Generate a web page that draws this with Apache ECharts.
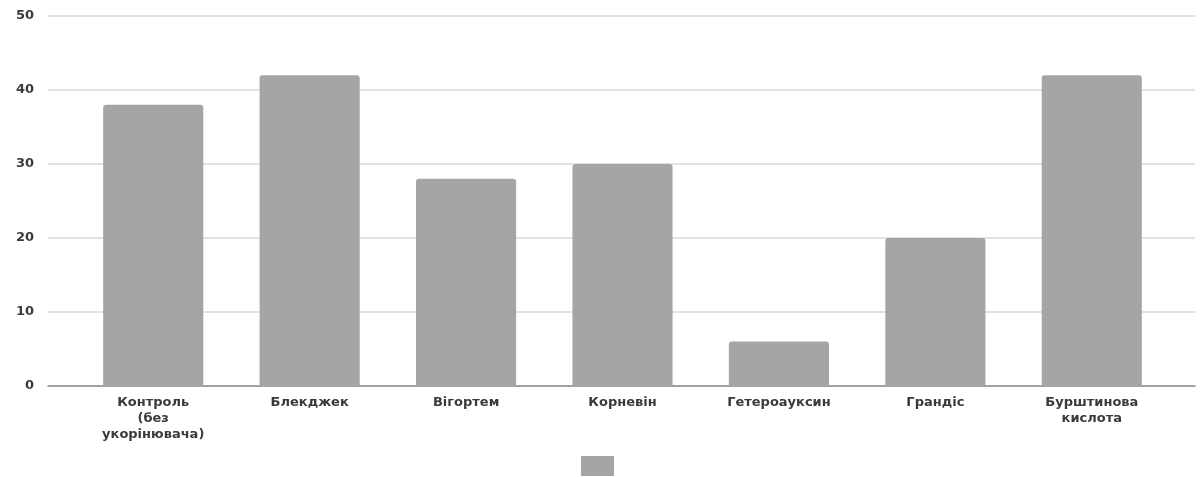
<!DOCTYPE html>
<html>
<head>
<meta charset="utf-8">
<script src="https://cdn.jsdelivr.net/npm/echarts@6/dist/echarts.min.js"></script>
<style>html,body{margin:0;padding:0;background:#fff}#c{width:1202px;height:477px}</style>
</head>
<body>
<div id="c"></div>
<script>
const categories = ['Контроль\n(без\nукорінювача)', 'Блекджек', 'Вігортем', 'Корневін', 'Гетероауксин', 'Грандіс', 'Бурштинова\nкислота'];
const values = [38, 42, 28, 30, 6, 20, 42];
const yTicks = [0, 10, 20, 30, 40, 50];

const chart = echarts.init(document.getElementById('c'));
const font = 'DejaVu Sans';
chart.setOption({
  animation: false,
  backgroundColor: '#ffffff',
  grid: [
    { left: 48, right: 7, top: 16, bottom: 91 },
    { left: 75, right: 32, top: 16, bottom: 91 }
  ],
  legend: {
    show: true,
    data: [' '],
    top: 451,
    left: 576,
    icon: 'rect',
    itemWidth: 33,
    itemHeight: 20,
    formatter: () => '',
    textStyle: { fontSize: 1 }
  },
  xAxis: [
    {
      gridIndex: 0, type: 'value', min: 0, max: 1,
      axisLine: { show: true, lineStyle: { color: '#8c8c8c', width: 1.5 } },
      axisTick: { show: false }, axisLabel: { show: false }, splitLine: { show: false }
    },
    {
      gridIndex: 1, type: 'category', data: categories,
      axisLine: { show: false }, axisTick: { show: false },
      axisLabel: {
        interval: 0, margin: 9, color: '#3a3a3a', fontFamily: font, fontSize: 13, fontWeight: 'bold',
        lineHeight: 16, align: 'center'
      }
    }
  ],
  yAxis: [
    {
      gridIndex: 0, type: 'value', min: yTicks[0], max: yTicks[yTicks.length - 1], interval: 10,
      axisLine: { show: false }, axisTick: { show: false },
      axisLabel: { margin: 14, color: '#3a3a3a', fontFamily: font, fontSize: 13, fontWeight: 'bold' },
      splitLine: { show: true, lineStyle: { color: '#d9d9d9', width: 1.5 } }
    },
    {
      gridIndex: 1, type: 'value', min: 0, max: 50, interval: 10, show: false,
      splitLine: { show: false }
    }
  ],
  series: [
    {
      name: ' ',
      type: 'bar',
      xAxisIndex: 1, yAxisIndex: 1,
      data: values,
      barCategoryGap: '36%',
      itemStyle: { color: '#a5a5a5', borderRadius: [3, 3, 0, 0] }
    }
  ]
});
</script>
</body>
</html>
